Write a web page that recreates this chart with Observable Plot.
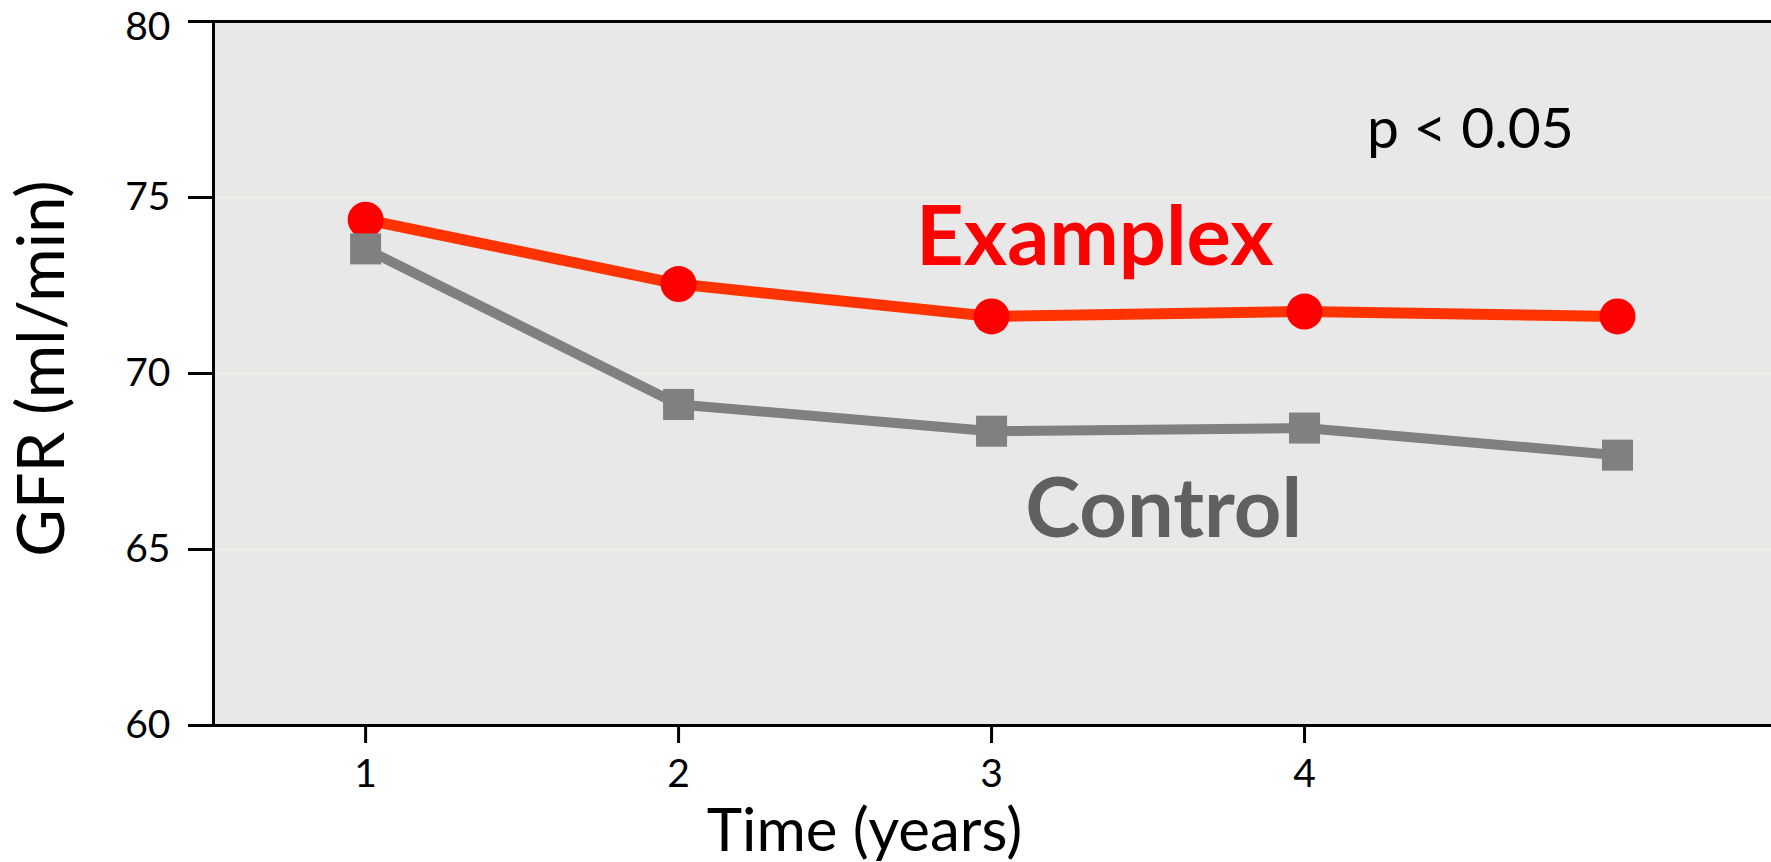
<!DOCTYPE html>
<html>
<head>
<meta charset="utf-8">
<script src="https://cdn.jsdelivr.net/npm/d3@7"></script>
<script src="https://cdn.jsdelivr.net/npm/@observablehq/plot@0.6"></script>
<style>
  html, body { margin: 0; padding: 0; background: #ffffff; }
  #chart { width: 1771px; height: 862px; }
</style>
</head>
<body>
<div id="chart"></div>
<script>
// ---- data ----
const years = [1, 2, 3, 4, 5];
const examplexGFR = [74.37, 72.54, 71.62, 71.76, 71.62];
const controlGFR = [73.54, 69.12, 68.36, 68.45, 67.68];
const xTickValues = [1, 2, 3, 4];
const yTickValues = [60, 65, 70, 75, 80];
const yTopTick = [80];
const gridValues = [65, 70, 75];
const seriesNames = ["Examplex", "Control"];
const annotationText = ["Examplex", "Control", "p < 0.05"];
// annotation anchors in data units (time, GFR)
const annotationTime = [3.33, 3.55, 4.53];
const annotationGFR = [73.08, 65.35, 76.4];

// ---- tables built from the arrays ----
const examplex = years.map((t, i) => ({time: t, gfr: examplexGFR[i], series: seriesNames[0]}));
const control = years.map((t, i) => ({time: t, gfr: controlGFR[i], series: seriesNames[1]}));
const annotations = annotationText.map((s, i) => ({text: s, time: annotationTime[i], gfr: annotationGFR[i]}));

const xDomain = [0.514, 5.492];
const yDomain = [60, 80];

const chart = Plot.plot({
  width: 1771,
  height: 862,
  marginLeft: 213,
  marginRight: 0,
  marginTop: 21,
  marginBottom: 137,
  style: {fontFamily: "Lato, 'Open Sans', sans-serif", color: "black", background: "#ffffff"},
  x: {domain: xDomain, label: null},
  y: {domain: yDomain, label: null},
  marks: [
    Plot.frame({fill: "#e8e8e8", stroke: "none"}),
    Plot.ruleY(gridValues, {stroke: "#f1eee4", strokeWidth: 2}),
    Plot.ruleY([yDomain[0], yDomain[1]], {stroke: "black", strokeWidth: 3}),
    Plot.ruleX([xDomain[0]], {stroke: "black", strokeWidth: 3}),
    Plot.axisY({ticks: yTickValues, tickSize: 25, tickPadding: 18, fontSize: 39, strokeWidth: 3, label: null,
                tickFormat: d => (yTopTick.includes(d) ? "" : String(d))}),
    Plot.axisY({ticks: yTopTick, tickSize: 0, tickPadding: 43, fontSize: 39, label: null, tickFormat: d => String(d), dy: 6}),
    Plot.axisX({ticks: xTickValues, tickSize: 18, tickPadding: 16, fontSize: 39, strokeWidth: 3, label: null, tickFormat: d => String(d)}),
    Plot.line(examplex, {x: "time", y: "gfr", stroke: "#ff3300", strokeWidth: 11}),
    Plot.dot(examplex, {x: "time", y: "gfr", r: 18, fill: "#ff0000", stroke: "none"}),
    Plot.line(control, {x: "time", y: "gfr", stroke: "#808080", strokeWidth: 10}),
    Plot.dot(control, {x: "time", y: "gfr", symbol: "square", r: 17.5, fill: "#808080", stroke: "none"}),
    Plot.text([annotations[0]], {x: "time", y: "gfr", text: "text", fill: "#ff0000", fontSize: 83, fontWeight: "bold", textAnchor: "middle", lineAnchor: "bottom"}),
    Plot.text([annotations[1]], {x: "time", y: "gfr", text: "text", fill: "#606060", fontSize: 83, fontWeight: "bold", textAnchor: "middle", lineAnchor: "bottom"}),
    Plot.text([annotations[2]], {x: "time", y: "gfr", text: "text", fill: "black", fontSize: 57, textAnchor: "middle", lineAnchor: "bottom"}),
    Plot.text(["GFR (ml/min)"], {frameAnchor: "left", rotate: -90, dx: -150, dy: -5, fontSize: 65, textAnchor: "middle", lineAnchor: "bottom", fill: "black"}),
    Plot.text(["Time (years)"], {frameAnchor: "bottom", dx: -128, dy: 125, fontSize: 60, textAnchor: "middle", lineAnchor: "bottom", fill: "black"})
  ]
});
document.getElementById("chart").appendChild(chart);
</script>
</body>
</html>
